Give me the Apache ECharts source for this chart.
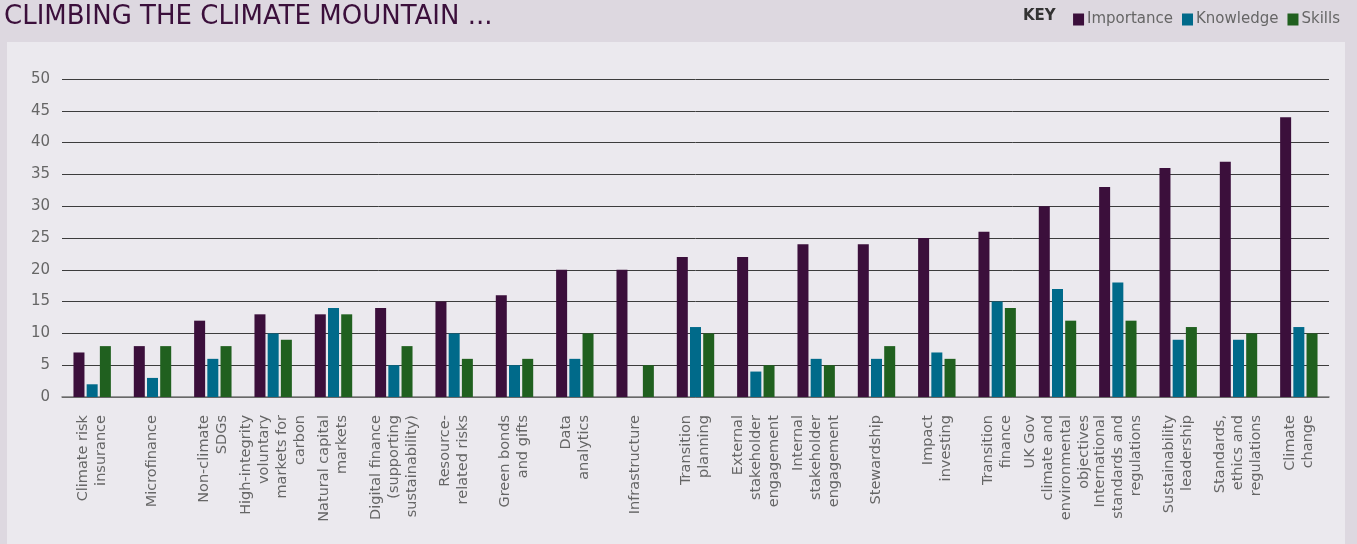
<!DOCTYPE html>
<html>
<head>
<meta charset="utf-8">
<script src="https://cdn.jsdelivr.net/npm/echarts@6/dist/echarts.min.js"></script>
<style>
html,body{margin:0;padding:0;background:#ddd8e0;}
#c{width:1357px;height:544px;}
</style>
</head>
<body>
<div id="c"></div>
<script>
const categories = [
  "Climate risk\ninsurance",
  "Microfinance",
  "Non-climate\nSDGs",
  "High-integrity\nvoluntary\nmarkets for\ncarbon",
  "Natural capital\nmarkets",
  "Digital finance\n(supporting\nsustainability)",
  "Resource-\nrelated risks",
  "Green bonds\nand gifts",
  "Data\nanalytics",
  "Infrastructure",
  "Transition\nplanning",
  "External\nstakeholder\nengagement",
  "Internal\nstakeholder\nengagement",
  "Stewardship",
  "Impact\ninvesting",
  "Transition\nfinance",
  "UK Gov\nclimate and\nenvironmental\nobjectives",
  "International\nstandards and\nregulations",
  "Sustainability\nleadership",
  "Standards,\nethics and\nregulations",
  "Climate\nchange"
];
const importance = [7, 8, 12, 13, 13, 14, 15, 16, 20, 20, 22, 22, 24, 24, 25, 26, 30, 33, 36, 37, 44];
const knowledge  = [2, 3, 6, 10, 14, 5, 10, 5, 6, 0, 11, 4, 6, 6, 7, 15, 17, 18, 9, 9, 11];
const skills     = [8, 8, 8, 9, 13, 8, 6, 6, 10, 5, 10, 5, 5, 8, 6, 14, 12, 12, 11, 10, 10];
const seriesNames = ["Importance", "Knowledge", "Skills"];
const yTicks = { min: 0, max: 50, interval: 5 };

const colors = ["#3b0f3b", "#006a8a", "#20601f"];
const font = "'DejaVu Sans', 'Noto Sans', sans-serif";

const chart = echarts.init(document.getElementById('c'), null, {renderer: 'canvas'});
const mk = (name, data, i) => ({
  name, type: 'bar', data,
  barWidth: 11, barGap: '20%',
  itemStyle: { color: colors[i] },
  emphasis: { disabled: true }
});
chart.setOption({
  backgroundColor: '#ddd8e0',
  animation: false,
  graphic: [
    { type: 'rect', left: 7, top: 42, shape: { width: 1338, height: 510 }, style: { fill: '#ebe9ee' }, z: -10 },
    { type: 'text', left: 4, top: 4, style: { text: 'CLIMBING THE CLIMATE MOUNTAIN ...', fill: '#3b0f3b', font: "normal 26px " + font } },
    { type: 'text', left: 1023, top: 9, style: { text: 'KEY', fill: '#333', font: "bold 15px " + font } }
  ],
  title: { show: false },
  legend: {
    data: seriesNames,
    right: 12, top: 7,
    icon: 'rect', itemWidth: 11, itemHeight: 12, itemGap: 9,
    textStyle: { color: '#666', fontSize: 15, fontFamily: font, padding: [0, 0, 0, -2] }
  },
  grid: { left: 62, right: 28, top: 79, bottom: 147, containLabel: false },
  xAxis: {
    type: 'category', data: categories,
    axisLine: { lineStyle: { color: '#777', width: 1.5 } },
    axisTick: { show: false },
    axisLabel: { rotate: 90, interval: 0, margin: 18, color: '#666', fontSize: 14.5, lineHeight: 18, fontFamily: font }
  },
  yAxis: {
    type: 'value', min: yTicks.min, max: yTicks.max, interval: yTicks.interval,
    axisLine: { show: false }, axisTick: { show: false },
    axisLabel: { color: '#666', fontSize: 15, margin: 12, fontFamily: font },
    splitLine: { lineStyle: { color: '#3c3c3c', width: 1 } }
  },
  series: [mk(seriesNames[0], importance, 0), mk(seriesNames[1], knowledge, 1), mk(seriesNames[2], skills, 2)]
});
</script>
</body>
</html>
